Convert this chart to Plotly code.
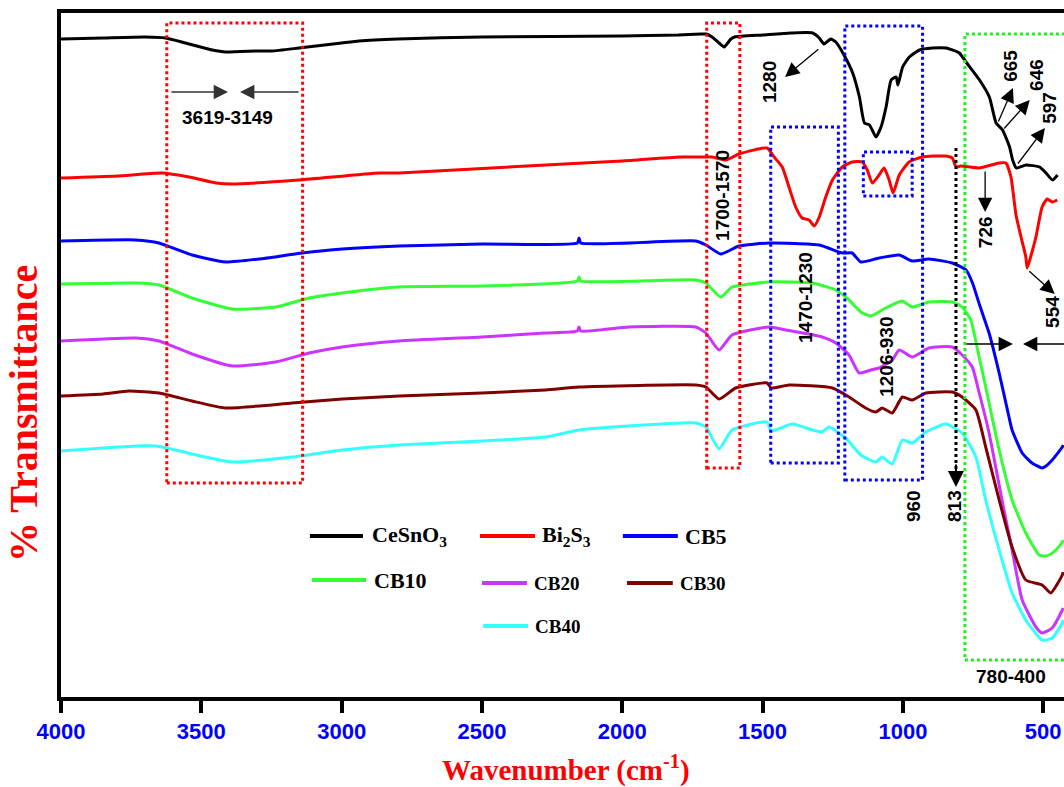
import plotly.graph_objects as go

# ---------------- data (wavenumber cm^-1, transmittance a.u., offset stacked) ----------------
w_cesno3 = [4000, 3850, 3700, 3627, 3556, 3461, 3413, 3300, 3248, 3152, 3000, 2938, 2800, 2500, 2000,
            1800, 1720, 1700, 1680, 1655, 1637, 1613, 1600, 1500, 1400, 1322, 1298, 1281, 1257, 1239,
            1210, 1179, 1155, 1137, 1119, 1096, 1078, 1060, 1042, 1024, 1018, 1001, 977, 941, 895,
            846, 799, 775, 727, 692, 668, 645, 620, 609, 596, 561, 513, 490, 467, 449]
t_cesno3 = [629, 630, 631, 630, 625, 618, 616, 617, 617, 620, 625, 627, 629, 631, 632,
            633, 634, 634, 631, 625, 621, 629, 631, 633, 635, 635, 630, 624, 629, 626,
            613, 595, 571, 545, 543, 531, 541, 561, 588, 591, 583, 601, 611, 618, 620,
            620, 615, 606, 588, 571, 545, 538, 521, 508, 500, 503, 501, 495, 488, 493]

w_bi2s3 = [4000, 3800, 3640, 3544, 3448, 3390, 3152, 2867, 2795, 2273, 2000, 1797, 1738, 1680, 1631,
           1584, 1484, 1459, 1430, 1406, 1382, 1359, 1334, 1316, 1298, 1275, 1251, 1216, 1181, 1145,
           1127, 1109, 1085, 1067, 1049, 1035, 1013, 978, 931, 847, 824, 814, 807, 794, 729,
           657, 633, 615, 597, 580, 562, 557, 540, 526, 504, 486, 468, 450]
t_bi2s3 = [490, 492, 495, 491, 485, 484, 488, 495, 495, 503, 507, 511, 511, 511, 508,
           514, 520, 511, 501, 481, 461, 450, 448, 442, 451, 471, 488, 501, 506, 506,
           498, 485, 493, 500, 488, 475, 493, 506, 511, 512, 510, 503, 501, 502, 500,
           505, 505, 491, 453, 432, 411, 400, 416, 431, 461, 469, 466, 468]

w_cb5 = [4000, 3734, 3651, 3533, 3413, 3294, 3141, 2998, 2795, 2500, 2160, 2154, 2148, 1738, 1702,
         1649, 1584, 1477, 1298, 1216, 1181, 1150, 1085, 1013, 967, 907, 824, 775, 752, 728,
         693, 657, 622, 611, 575, 540, 504, 490, 468, 432, 429]
t_cb5 = [427, 428, 425, 413, 406, 409, 415, 419, 422, 424, 425, 430, 425, 427, 423,
         414, 422, 425, 423, 415, 415, 406, 410, 413, 407, 409, 405, 398, 385, 364,
         335, 295, 251, 238, 215, 205, 200, 202, 208, 221, 223]

w_cb10 = [4000, 3734, 3651, 3533, 3390, 3235, 3116, 2998, 2795, 2500, 2160, 2154, 2148, 1738, 1702,
          1649, 1609, 1477, 1323, 1239, 1192, 1150, 1114, 1061, 1003, 967, 907, 824, 789, 758,
          736, 705, 657, 611, 562, 515, 497, 479, 455, 432, 429]
t_cb10 = [384, 385, 383, 370, 359, 361, 370, 375, 381, 382, 387, 391, 387, 388, 385,
          371, 381, 386, 385, 378, 368, 356, 352, 360, 367, 361, 366, 366, 361, 348,
          321, 281, 218, 168, 135, 113, 112, 113, 118, 126, 128]

w_cb20 = [4000, 3734, 3651, 3533, 3390, 3235, 3116, 2998, 2795, 2500, 2273, 2160, 2154, 2148, 1976,
          1738, 1702, 1655, 1609, 1477, 1417, 1288, 1239, 1192, 1156, 1114, 1085, 1038, 1013, 967,
          907, 824, 789, 753, 728, 693, 647, 611, 575, 526, 504, 468, 432, 429]
t_cb20 = [327, 330, 327, 314, 302, 306, 315, 321, 327, 331, 335, 337, 341, 337, 341,
          341, 335, 318, 333, 341, 338, 331, 325, 313, 295, 298, 300, 308, 318, 311,
          320, 321, 313, 301, 275, 235, 168, 118, 68, 41, 35, 40, 58, 60]

w_cb30 = [4000, 3850, 3758, 3651, 3533, 3413, 3177, 2998, 2795, 2500, 2273, 2154, 1738, 1702, 1655,
          1596, 1484, 1470, 1406, 1251, 1192, 1133, 1096, 1074, 1038, 1002, 967, 918, 824, 789,
          740, 705, 657, 611, 562, 504, 473, 432, 429]
t_cb30 = [272, 274, 277, 275, 267, 260, 265, 269, 272, 275, 278, 281, 283, 281, 269,
          280, 285, 280, 283, 280, 271, 260, 256, 260, 255, 271, 268, 275, 276, 271,
          258, 221, 168, 121, 88, 83, 75, 93, 96]

w_cb40 = [4000, 3663, 3533, 3390, 3177, 2998, 2795, 2500, 2273, 2154, 1738, 1702, 1655, 1609, 1484,
          1470, 1394, 1323, 1288, 1263, 1204, 1150, 1096, 1074, 1038, 1002, 967, 918, 847, 789,
          740, 705, 657, 611, 562, 504, 468, 432, 429]
t_cb40 = [217, 222, 214, 206, 211, 218, 223, 227, 231, 238, 245, 241, 219, 238, 246,
          237, 244, 238, 236, 241, 230, 213, 206, 211, 204, 228, 225, 236, 244, 235,
          211, 168, 118, 75, 48, 28, 30, 45, 48]

series_names = ["CeSnO3", "Bi2S3", "CB5", "CB10", "CB20", "CB30", "CB40"]
series_colors = ["#000000", "#ff0000", "#0000ff", "#33ff33", "#cc33ff", "#800000", "#33ffff"]
series_x = [w_cesno3, w_bi2s3, w_cb5, w_cb10, w_cb20, w_cb30, w_cb40]
series_y = [t_cesno3, t_bi2s3, t_cb5, t_cb10, t_cb20, t_cb30, t_cb40]

x_ticks = [4000, 3500, 3000, 2500, 2000, 1500, 1000, 500]

# ---------------- figure ----------------
fig = go.Figure()
for name, col, xs, ys in zip(series_names, series_colors, series_x, series_y):
    fig.add_trace(go.Scatter(x=xs, y=ys, mode="lines", name=name,
                             line=dict(color=col, width=3, shape="spline", smoothing=0.5),
                             showlegend=False))

SANS = "Liberation Sans"
SERIF = "Liberation Serif"

shapes = []
def dbox(x0, x1, y0, y1, col):
    shapes.append(dict(type="rect", xref="x", yref="y", x0=x0, x1=x1, y0=y0, y1=y1,
                       line=dict(color=col, width=3, dash="dot"), layer="above"))

dbox(3623, 3139, 185, 645, "#ff0000")
dbox(1699, 1581, 200, 645, "#ff0000")
dbox(1471, 1230, 205, 541, "#0000ff")
dbox(1207, 930, 188, 642, "#0000ff")
dbox(1141, 967, 472, 516, "#0000ff")
dbox(779, 380, 8, 634, "#22ee22")
# 813 dotted guide
shapes.append(dict(type="line", xref="x", yref="y", x0=811, x1=811, y0=520, y1=196,
                   line=dict(color="#000000", width=3, dash="dot")))

# custom legend swatches
leg = [
    ("CeSnO<sub>3</sub>", "#000000", 3113, 2924, 2899, 132, 22),
    ("Bi<sub>2</sub>S<sub>3</sub>", "#ff0000", 2507, 2311, 2293, 132, 22),
    ("CB5", "#0000ff", 1998, 1802, 1784, 132, 22),
    ("CB10", "#33ff33", 3106, 2913, 2892, 88, 22),
    ("CB20", "#cc33ff", 2500, 2340, 2322, 85, 19),
    ("CB30", "#800000", 1983, 1820, 1802, 85, 19),
    ("CB40", "#33ffff", 2496, 2336, 2318, 42, 19),
]
annotations = []
for txt, col, lx0, lx1, tx, ly, fs in leg:
    shapes.append(dict(type="line", xref="x", yref="y", x0=lx0, x1=lx1, y0=ly, y1=ly,
                       line=dict(color=col, width=4)))
    annotations.append(dict(x=tx, y=ly, xref="x", yref="y", text="<b>%s</b>" % txt,
                            showarrow=False, xanchor="left", yanchor="middle",
                            font=dict(family=SERIF, size=fs, color="#000000")))

def label(x, y, txt, angle=-90, size=19):
    annotations.append(dict(x=x, y=y, xref="x", yref="y", text="<b>%s</b>" % txt,
                            showarrow=False, textangle=angle, xanchor="center", yanchor="middle",
                            font=dict(family=SANS, size=size, color="#000000")))

def arrow(xh, yh, xt, yt, col="#000000", aw=1.3, asz=2.2):
    annotations.append(dict(x=xh, y=yh, ax=xt, ay=yt, xref="x", yref="y", axref="x", ayref="y",
                            text="", showarrow=True, arrowhead=2, arrowsize=asz, arrowwidth=aw,
                            arrowcolor=col, standoff=0, startstandoff=0))

label(3405, 551, "3619-3149", angle=0)
arrow(3405, 576, 3612, 576, col="#333333")
arrow(3362, 576, 3148, 576, col="#333333")
label(1645, 473, "1700-1570")
label(1477, 586, "1280")
arrow(1420, 591, 1296, 620)
label(1349, 371, "1470-1230")
label(1061, 311, "1206-930")
label(964, 162, "960")
label(818, 162, "813")
arrow(811, 181, 811, 205, aw=2, asz=1.6)
label(707, 436, "726")
arrow(707, 456, 707, 498)
label(469, 356, "554")
arrow(459, 374, 555, 398)
label(619, 602, "665")
label(526, 593, "646")
label(480, 560, "597")
arrow(608, 580, 662, 545)
arrow(548, 568, 644, 538)
arrow(494, 540, 594, 503)
arrow(608, 324, 779, 324)
arrow(572, 324, 420, 324)
label(615, -8, "780-400", angle=0)

# axis titles
annotations.append(dict(x=0.5035, y=-0.105, xref="paper", yref="paper",
                        text="<b>Wavenumber (cm<sup>-1</sup>)</b>", showarrow=False,
                        xanchor="center", yanchor="middle",
                        font=dict(family=SERIF, size=29, color="#ff0000")))
annotations.append(dict(x=-0.038, y=0.415, xref="paper", yref="paper",
                        text="<b>% Transmittance</b>", showarrow=False, textangle=-90,
                        xanchor="center", yanchor="middle",
                        font=dict(family=SERIF, size=40, color="#ff0000")))

fig.update_layout(
    width=1064, height=787,
    margin=dict(l=61, r=0, t=13, b=90, pad=0),
    paper_bgcolor="white", plot_bgcolor="white",
    shapes=shapes, annotations=annotations,
    xaxis=dict(range=[4000, 426], tickvals=x_ticks, ticktext=[str(v) for v in x_ticks],
               ticks="outside", ticklen=12, tickwidth=4, tickcolor="#000000",
               showline=True, linewidth=4, linecolor="#000000", mirror=True,
               showgrid=False, zeroline=False,
               tickfont=dict(family=SANS, size=22, color="#0000ff", weight="bold")),
    yaxis=dict(range=[-29, 655], showticklabels=False, ticks="",
               showline=True, linewidth=4, linecolor="#000000", mirror=False,
               showgrid=False, zeroline=False),
)

fig.write_html("out.html")
